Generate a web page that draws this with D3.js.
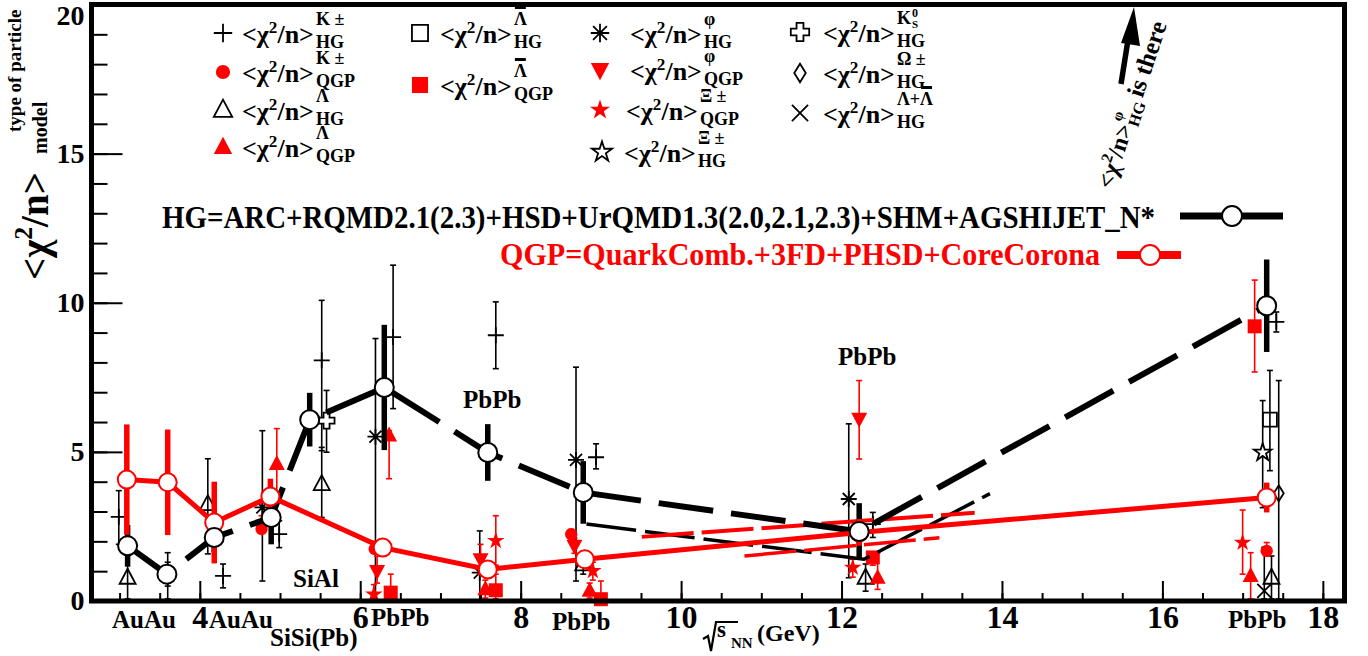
<!DOCTYPE html>
<html>
<head>
<meta charset="utf-8">
<script src="https://d3js.org/d3.v7.min.js"></script>
<style>
  body { margin: 0; background: #fff; }
  text { font-family: "Liberation Serif", "Times New Roman", serif; font-weight: bold; }
</style>
</head>
<body>
<script>
var width = 1368, height = 656;

// averaged model curves (sqrt(s_NN), <chi2/n>, error)
var hgX = [3.10, 3.59, 4.18, 4.89, 5.37, 6.30, 7.59, 8.78, 12.22, 17.30];
var hgY = [1.85, 0.90, 2.13, 2.80, 6.08, 7.16, 4.98, 3.64, 2.33, 9.90];
var hgErr = [0.7, 0.3, 0.5, 0.9, 0.9, 2.1, 0.95, 1.05, 0.95, 1.55];

var qgpX = [3.09, 3.60, 4.18, 4.88, 6.28, 7.59, 8.80, 12.22, 17.30];
var qgpY = [4.07, 3.98, 2.63, 3.50, 1.79, 1.06, 1.40, 2.30, 3.47];
var qgpErr = [1.85, 1.77, 1.37, 0.6, 0.25, 0.2, 0.3, 0.45, 0.5];

// extra dashed curves
var hgAltX = [8.82, 12.28, 13.85];
var hgAltY = [2.58, 1.40, 3.60];
var qgpAltAX = [9.51, 13.66];
var qgpAltAY = [2.15, 2.96];
var qgpAltBX = [10.79, 13.22];
var qgpAltBY = [1.51, 2.12];

// single particle values
var kHG = [
  {x: 2.99, y: 2.82, lo: 1.9, hi: 3.7},
  {x: 3.60, y: 0.95, lo: 0.07, hi: 1.62},
  {x: 4.29, y: 0.84, lo: 0.44, hi: 1.24},
  {x: 4.99, y: 2.24, lo: 1.79, hi: 2.69},
  {x: 5.52, y: 8.07, lo: 5.04, hi: 10.08},
  {x: 6.41, y: 8.85, lo: 6.45, hi: 11.26},
  {x: 7.69, y: 8.91, lo: 7.79, hi: 10.03},
  {x: 8.94, y: 4.82, lo: 4.43, hi: 5.27},
  {x: 12.39, y: 2.58, lo: 2.13, hi: 2.97},
  {x: 17.42, y: 9.36, lo: 9.02, hi: 9.69}
];
var kQGP = [
  {x: 4.77, y: 2.41, lo: 2.3, hi: 2.86},
  {x: 6.18, y: 1.74, lo: 1.6, hi: 2.0},
  {x: 8.63, y: 2.24, lo: 2.05, hi: 2.4},
  {x: 17.30, y: 1.68, lo: 1.51, hi: 1.96}
];
var lamHG = [
  {x: 3.10, y: 0.78, lo: 0.07, hi: 1.8},
  {x: 4.10, y: 3.25, lo: 1.58, hi: 4.77},
  {x: 5.52, y: 3.92, lo: 2.8, hi: 5.15},
  {x: 8.78, y: 1.23, lo: 0.9, hi: 1.6},
  {x: 12.30, y: 0.78, lo: 0.33, hi: 1.24},
  {x: 17.36, y: 0.78, lo: 0.07, hi: 1.51}
];
var lamQGP = [
  {x: 4.96, y: 4.59, lo: 3.36, hi: 5.78},
  {x: 6.36, y: 5.55, lo: 4.1, hi: 5.71},
  {x: 7.56, y: 0.39, lo: 0.1, hi: 0.7},
  {x: 8.86, y: 0.34, lo: 0.1, hi: 0.6},
  {x: 12.45, y: 0.78, lo: 0.39, hi: 1.62},
  {x: 17.10, y: 0.84, lo: 0.07, hi: 1.62}
];
var lamBarHG = [
  {x: 17.34, y: 6.08, lo: 4.37, hi: 7.73}
];
var lamBarQGP = [
  {x: 6.38, y: 0.28, lo: 0.07, hi: 0.9},
  {x: 7.69, y: 0.36, lo: 0.07, hi: 0.9},
  {x: 9.00, y: 0.06, lo: 0.0, hi: 0.67},
  {x: 12.39, y: 1.46, lo: 1.2, hi: 1.65},
  {x: 17.15, y: 9.21, lo: 7.68, hi: 10.76}
];
var phiHG = [
  {x: 3.60, y: 0.92, lo: 0.5, hi: 1.3},
  {x: 4.78, y: 3.14, lo: 0.67, hi: 5.71},
  {x: 6.19, y: 5.51, lo: 0.0, hi: 8.8},
  {x: 7.49, y: 0.95, lo: 0.0, hi: 2.35},
  {x: 8.69, y: 4.73, lo: 0.67, hi: 7.84},
  {x: 12.09, y: 3.42, lo: 0.78, hi: 5.94}
];
var phiQGP = [
  {x: 6.21, y: 1.01, lo: 0.6, hi: 1.5},
  {x: 7.50, y: 1.40, lo: 0.9, hi: 1.9},
  {x: 8.67, y: 1.85, lo: 1.6, hi: 2.1},
  {x: 12.22, y: 6.11, lo: 4.76, hi: 7.39}
];
var xiQGP = [
  {x: 6.17, y: 0.22, lo: 0.05, hi: 0.55},
  {x: 7.69, y: 2.02, lo: 1.2, hi: 2.86},
  {x: 8.90, y: 1.01, lo: 0.7, hi: 1.3},
  {x: 12.14, y: 1.12, lo: 0.8, hi: 1.4},
  {x: 17.00, y: 1.96, lo: 0.9, hi: 3.05}
];
var xiHG = [
  {x: 17.25, y: 4.98, lo: 3.13, hi: 6.72}
];
var k0sHG = [
  {x: 5.58, y: 6.05, lo: 4.99, hi: 7.06}
];
var omHG = [
  {x: 17.45, y: 3.61, lo: 0.07, hi: 7.39}
];
var lamSumHG = [
  {x: 17.27, y: 0.34, lo: 0.07, hi: 1.8}
];

var xMajor = [4, 6, 8, 10, 12, 14, 16, 18];
var xMinor = d3.range(3, 18.01, 0.5);
var yMajor = [0, 5, 10, 15, 20];
var yMinor = d3.range(1, 20, 1);

var svg = d3.select("body").append("svg")
    .attr("width", width)
    .attr("height", height);

var x = d3.scaleLinear().domain([2.65, 18.27]).range([91.5, 1344.5]);
var y = d3.scaleLinear().domain([0, 20]).range([601, 4.5]);

// ---- axes (ticks inside, ROOT style)
function styleAxis(g, fs) {
  g.select(".domain").remove();
  g.selectAll(".tick line").attr("stroke", "#000").attr("stroke-width", 2);
  g.selectAll(".tick text").attr("fill", "#000").style("font-size", fs + "px");
}
svg.append("g").attr("transform", "translate(0,601)")
    .call(d3.axisBottom(x).tickValues(xMinor).tickSize(-8).tickFormat(""))
    .call(styleAxis, 10);
svg.append("g").attr("transform", "translate(0,601)")
    .call(d3.axisBottom(x).tickValues(xMajor).tickSize(-20).tickPadding(4).tickFormat(d3.format("d")))
    .call(styleAxis, 32);
svg.append("g").attr("transform", "translate(91.5,0)")
    .call(d3.axisLeft(y).tickValues(yMinor).tickSize(-16).tickFormat(""))
    .call(styleAxis, 10);
var yAx = svg.append("g").attr("transform", "translate(91.5,0)")
    .call(d3.axisLeft(y).tickValues(yMajor).tickSize(-31).tickPadding(7).tickFormat(d3.format("d")))
    .call(styleAxis, 28);
// top label pushed inside the canvas, as ROOT does
yAx.selectAll(".tick text").filter(function(d) { return d === 20; }).attr("dy", "0.72em");

// ---- markers
var shapes = {
  plus: "M-8,0H8M0,-8V8",
  asterisk: "M-8,0H8M0,-8V8M-6,-6L6,6M-6,6L6,-6",
  cross: "M-7,-7L7,7M-7,7L7,-7",
  triUp: "M0,-9L8,6L-8,6Z",
  triDown: "M0,9L8,-6L-8,-6Z",
  square: "M-7,-7H7V7H-7Z",
  diamond: "M0,-8L5,0L0,8L-5,0Z",
  crossOpen: "M-3,-8H3V-3H8V3H3V8H-3V3H-8V-3H-3Z",
  star: d3.symbol().type(d3.symbolStar).size(95)(),
  dot: d3.symbol().type(d3.symbolCircle).size(120)()
};
var markerStyle = {
  plus: {shape: "plus", fill: "none", stroke: "#000"},
  asterisk: {shape: "asterisk", fill: "none", stroke: "#000"},
  cross: {shape: "cross", fill: "none", stroke: "#000"},
  triUp: {shape: "triUp", fill: "none", stroke: "#000"},
  triUpRed: {shape: "triUp", fill: "red", stroke: "none"},
  triDownRed: {shape: "triDown", fill: "red", stroke: "none"},
  square: {shape: "square", fill: "none", stroke: "#000"},
  squareRed: {shape: "square", fill: "red", stroke: "none"},
  diamond: {shape: "diamond", fill: "none", stroke: "#000"},
  crossOpen: {shape: "crossOpen", fill: "#fff", stroke: "#000"},
  star: {shape: "star", fill: "#fff", stroke: "#000"},
  starRed: {shape: "star", fill: "red", stroke: "none"},
  dotRed: {shape: "dot", fill: "red", stroke: "none"}
};
function drawMarker(g, type, cx, cy, k) {
  var m = markerStyle[type];
  k = k || 1;
  g.append("path").attr("d", shapes[m.shape])
    .attr("transform", "translate(" + cx + "," + cy + ") scale(" + k + ")")
    .attr("fill", m.fill).attr("stroke", m.stroke).attr("stroke-width", 1.8 / k);
}

var plot = svg.append("g");

function species(data, type, color) {
  var g = plot.append("g");
  data.forEach(function(d) {
    var px = x(d.x);
    g.append("line").attr("x1", px).attr("x2", px).attr("y1", y(d.lo)).attr("y2", y(d.hi))
      .attr("stroke", color).attr("stroke-width", 1.6);
    [d.lo, d.hi].forEach(function(v) {
      g.append("line").attr("x1", px - 3).attr("x2", px + 3).attr("y1", y(v)).attr("y2", y(v))
        .attr("stroke", color).attr("stroke-width", 1.6);
    });
    drawMarker(g, type, px, y(d.y));
  });
}
species(phiHG, "asterisk", "#000");
species(lamHG, "triUp", "#000");
species(kHG, "plus", "#000");
species(lamBarHG, "square", "#000");
species(xiHG, "star", "#000");
species(k0sHG, "crossOpen", "#000");
species(omHG, "diamond", "#000");
species(lamSumHG, "cross", "#000");
species(kQGP, "dotRed", "red");
species(lamQGP, "triUpRed", "red");
species(lamBarQGP, "squareRed", "red");
species(phiQGP, "triDownRed", "red");
species(xiQGP, "starRed", "red");

// ---- extra dashed curves
var line = d3.line().x(function(d) { return x(d[0]); }).y(function(d) { return y(d[1]); });
plot.append("path").datum(d3.zip(hgAltX, hgAltY)).attr("d", line)
    .attr("fill", "none").attr("stroke", "#000").attr("stroke-width", 3.5).attr("stroke-dasharray", "50,9");
plot.append("path").datum(d3.zip(qgpAltAX, qgpAltAY)).attr("d", line)
    .attr("fill", "none").attr("stroke", "red").attr("stroke-width", 4).attr("stroke-dasharray", "52,8");
plot.append("path").datum(d3.zip(qgpAltBX, qgpAltBY)).attr("d", line)
    .attr("fill", "none").attr("stroke", "red").attr("stroke-width", 3.5).attr("stroke-dasharray", "52,8");

// ---- averaged curves
function thickBars(xs, ys, es, color) {
  plot.append("g").selectAll("line").data(d3.range(xs.length)).enter().append("line")
    .attr("x1", function(i) { return x(xs[i]); }).attr("x2", function(i) { return x(xs[i]); })
    .attr("y1", function(i) { return y(ys[i] - es[i]); }).attr("y2", function(i) { return y(ys[i] + es[i]); })
    .attr("stroke", color).attr("stroke-width", 5.5);
}
thickBars(hgX, hgY, hgErr, "#000");
thickBars(qgpX, qgpY, qgpErr, "red");

plot.append("path").datum(d3.zip(hgX, hgY)).attr("d", line)
    .attr("fill", "none").attr("stroke", "#000").attr("stroke-width", 6).attr("stroke-dasharray", "55,18");
plot.append("path").datum(d3.zip(qgpX, qgpY)).attr("d", line)
    .attr("fill", "none").attr("stroke", "red").attr("stroke-width", 5);

plot.append("g").selectAll("circle").data(d3.zip(qgpX, qgpY)).enter().append("circle")
    .attr("cx", function(d) { return x(d[0]); }).attr("cy", function(d) { return y(d[1]); })
    .attr("r", 9).attr("fill", "#fff").attr("stroke", "red").attr("stroke-width", 2);
plot.append("g").selectAll("circle").data(d3.zip(hgX, hgY)).enter().append("circle")
    .attr("cx", function(d) { return x(d[0]); }).attr("cy", function(d) { return y(d[1]); })
    .attr("r", 9.5).attr("fill", "#fff").attr("stroke", "#000").attr("stroke-width", 2);

// ---- frame
svg.append("rect").attr("x", 91.5).attr("y", 4.5).attr("width", 1253).attr("height", 596.5)
    .attr("fill", "none").attr("stroke", "#000").attr("stroke-width", 5);

// ---- legend of particles
var legType = ["plus", "dotRed", "triUp", "triUpRed", "square", "squareRed", "asterisk", "triDownRed", "starRed", "star", "crossOpen", "diamond", "cross"];
var legSup = ["K ±", "K ±", "Λ", "Λ", "~Λ", "~Λ", "φ", "φ", "Ξ ±", "Ξ ±", "K0S", "Ω ±", "Λ+|~Λ"];
var legSub = ["HG", "QGP", "HG", "QGP", "HG", "QGP", "HG", "QGP", "QGP", "HG", "HG", "HG", "HG"];
var legMX = [223, 223, 223, 223, 420, 420, 600, 600, 600, 602, 800, 800, 800];
var legMY = [33, 72, 110, 147, 33, 85, 33, 70, 110, 152, 32, 73, 113];
var legTX = [242, 242, 242, 242, 440, 440, 630, 630, 626, 624, 823, 823, 823];

function chiText(g, x0, base, color, fs) {
  var t = g.append("text").attr("x", x0).attr("y", base).attr("fill", color).style("font-size", fs + "px");
  t.append("tspan").text("<χ");
  t.append("tspan").attr("dy", -fs * 0.4).style("font-size", (fs * 0.66) + "px").text("2");
  t.append("tspan").attr("dy", fs * 0.4).text("/n>");
  return t.node().getComputedTextLength();
}
function supLabel(g, x0, base, code, fs) {
  if (code === "K0S") {
    var k = g.append("text").attr("x", x0).attr("y", base).style("font-size", fs + "px").text("K");
    var w = k.node().getComputedTextLength();
    g.append("text").attr("x", x0 + w + 1).attr("y", base - 7).style("font-size", "12px").text("0");
    g.append("text").attr("x", x0 + w + 1).attr("y", base + 4).style("font-size", "11px").text("S");
    return;
  }
  var cx = x0;
  code.split("|").forEach(function(p) {
    var bar = p[0] === "~";
    var s = bar ? p.slice(1) : p;
    var t = g.append("text").attr("x", cx).attr("y", base).style("font-size", fs + "px").text(s);
    var w = t.node().getComputedTextLength();
    if (bar) g.append("rect").attr("x", cx + 1).attr("y", base - fs - 1).attr("width", w - 2).attr("height", 3);
    cx += w;
  });
}

var leg = svg.append("g");
legType.forEach(function(t, i) {
  drawMarker(leg, t, legMX[i], legMY[i], 1.15);
  var base = legMY[i] + 10;
  var w = chiText(leg, legTX[i], base, "#000", 26);
  supLabel(leg, legTX[i] + w + 2, base - 18, legSup[i], 18);
  leg.append("text").attr("x", legTX[i] + w + 2).attr("y", base + 5).style("font-size", "18px").text(legSub[i]);
});

// ---- model legend
svg.append("text").attr("x", 162).attr("y", 228).style("font-size", "32px")
    .attr("textLength", 993).attr("lengthAdjust", "spacingAndGlyphs")
    .text("HG=ARC+RQMD2.1(2.3)+HSD+UrQMD1.3(2.0,2.1,2.3)+SHM+AGSHIJET_N*");
svg.append("line").attr("x1", 1180).attr("x2", 1283).attr("y1", 216).attr("y2", 216)
    .attr("stroke", "#000").attr("stroke-width", 7);
svg.append("circle").attr("cx", 1232).attr("cy", 216).attr("r", 10)
    .attr("fill", "#fff").attr("stroke", "#000").attr("stroke-width", 2);
svg.append("text").attr("x", 500).attr("y", 265).attr("fill", "red").style("font-size", "31px")
    .attr("textLength", 600).attr("lengthAdjust", "spacingAndGlyphs")
    .text("QGP=QuarkComb.+3FD+PHSD+CoreCorona");
svg.append("line").attr("x1", 1117).attr("x2", 1181).attr("y1", 255).attr("y2", 255)
    .attr("stroke", "red").attr("stroke-width", 8);
svg.append("circle").attr("cx", 1150).attr("cy", 255).attr("r", 10)
    .attr("fill", "#fff").attr("stroke", "red").attr("stroke-width", 2);

// ---- annotation arrow
svg.append("line").attr("x1", 1121).attr("y1", 84).attr("x2", 1128).attr("y2", 40)
    .attr("stroke", "#000").attr("stroke-width", 5.5);
svg.append("path").attr("d", "M1134,7 L1140,46 L1121,43 Z").attr("fill", "#000");
var ann = svg.append("g").attr("transform", "translate(1112,190) rotate(-71.6)");
var aw = chiText(ann, 0, 0, "#000", 24);
ann.append("text").attr("x", aw + 1).attr("y", -13).style("font-size", "15px").text("φ");
ann.append("text").attr("x", aw + 1).attr("y", 5).style("font-size", "16px").text("HG");
ann.append("text").attr("x", aw + 30).attr("y", 0).style("font-size", "25px").text("is there");

// ---- axis titles
var yt = svg.append("g").attr("transform", "translate(48,280) rotate(-90)");
var yw = chiText(yt, 0, 0, "#000", 39);
yt.append("text").attr("x", 148).attr("y", -27).style("font-size", "19px").text("type of particle");
yt.append("text").attr("x", 126).attr("y", -1).style("font-size", "20px").text("model");

svg.append("path").attr("d", "M703,639 L708,636 L711,651 L716,622 H738")
    .attr("fill", "none").attr("stroke", "#000").attr("stroke-width", 2.2);
svg.append("text").attr("x", 717).attr("y", 637).style("font-size", "23px").text("s");
svg.append("text").attr("x", 731).attr("y", 648).style("font-size", "15px").text("NN");
svg.append("text").attr("x", 757).attr("y", 641).style("font-size", "24px").text("(GeV)");

// ---- collision labels
var labText = ["AuAu", "AuAu", "SiSi(Pb)", "PbPb", "PbPb", "PbPb", "SiAl", "PbPb", "PbPb"];
var labX = [112, 209, 270, 371, 552, 1228, 293, 463, 838];
var labY = [628, 628, 646, 626, 630, 628, 587, 408, 365];
svg.append("g").selectAll("text").data(labText).enter().append("text")
    .attr("x", function(d, i) { return labX[i]; })
    .attr("y", function(d, i) { return labY[i]; })
    .style("font-size", "25px")
    .text(function(d) { return d; });
</script>
</body>
</html>
